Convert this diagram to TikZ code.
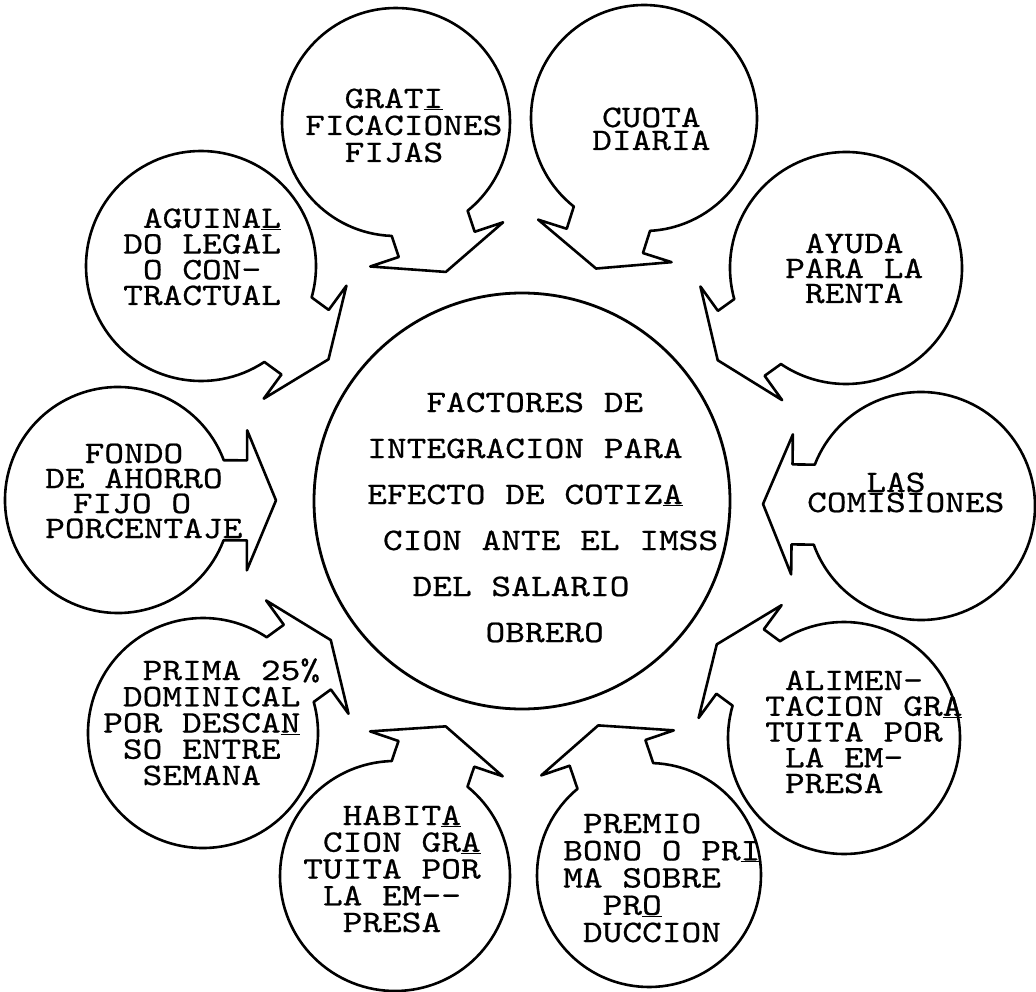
\documentclass[tikz,border=0pt]{standalone}
\usepackage{fontspec}
\newfontfamily\typew{lmmono10-regular.otf}[FakeStretch=1.2, FakeBold=0.6]
\usetikzlibrary{calc}
\newcommand\colsk[1]{\hspace*{\fpeval{0.63*#1}em}}
\lineskiplimit=-100pt

\begin{document}
\begin{tikzpicture}[x=1pt, y=-1pt,
    bubline/.style={line width=2.6pt, line join=round},
    hub/.style={circle, draw, line width=2.8pt, minimum size=416pt, inner sep=0pt},
    bubtext/.style={font=\typew\fontsize{31.3}{#1}\selectfont,
        align=left, inner sep=0pt, anchor=base west}
]
    \useasboundingbox (0,0) rectangle (1036,992);

    \node[hub] (hub) at (522,501) {};

    % bubbles with their arrow tails towards the hub
    \foreach \nm/\cx/\cy/\rr in {grati/396/122/114, cuota/644/118/113, ayuda/846/268/116,
        comis/921/506/114, alim/844/738/116, premio/649/875/112, habit/395/876/115,
        prima/203/733/115, fondo/118/500/113, aguin/201/266/115} {
        \coordinate (c\nm) at (\cx,\cy);
        \pgfmathsetmacro\ang{atan2(501-\cy,522-\cx)}
        \pgfmathsetmacro\al{asin(40/\rr)}
        \draw[bubline] ($(c\nm)+(\ang+\al:\rr)$)
            arc[start angle=\ang+\al, end angle=\ang+360-\al, radius=\rr]
            -- ($(c\nm)+(\ang:129)+(\ang-90:40)$) -- ($(c\nm)+(\ang:129)+(\ang-90:70)$)
            -- ($(c\nm)+(\ang:158)$)
            -- ($(c\nm)+(\ang:129)+(\ang+90:70)$) -- ($(c\nm)+(\ang:129)+(\ang+90:40)$)
            -- cycle;
    }

    \node[bubtext=46] (thub) at (367,642) {\colsk{3}FACTORES DE\\INTEGRACION PARA\\EFECTO DE COTIZ\underline{A}\\\colsk{.8}CION ANTE EL IMSS\\\colsk{2.3}DEL SALARIO\\\colsk{6}OBRERO};

    \node[bubtext=27] (tgrati) at (305,162) {\colsk{2}GRAT\underline{I}\\FICACIONES\\\colsk{2}FIJAS};
    \node[bubtext=23] (tcuota) at (592,150) {\colsk{.5}CUOTA\\DIARIA};
    \node[bubtext=25] (tayuda) at (785,303) {\colsk{1}AYUDA\\PARA LA\\\colsk{1}RENTA};
    \node[bubtext=20] (tcomis) at (807,512) {\colsk{3}LAS\\COMISIONES};
    \node[bubtext=25.75] (talim) at (765,793) {\colsk{1}ALIMEN-\\TACION GR\underline{A}\\TUITA POR\\\colsk{1}LA EM-\\\colsk{1}PRESA};
    \node[bubtext=27.25] (tpremio) at (563,942) {\colsk{1}PREMIO\\BONO O PR\underline{I}\\MA SOBRE\\\colsk{2}PR\underline{O}\\\colsk{1}DUCCION};
    \node[bubtext=26.75] (thabit) at (303,932) {\colsk{2}HABIT\underline{A}\\\colsk{1}CION GR\underline{A}\\TUITA POR\\\colsk{1}LA EM--\\\colsk{2}PRESA};
    \node[bubtext=26.25] (tprima) at (103,785) {\colsk{2}PRIMA 25\%\\\colsk{1}DOMINICAL\\POR DESCA\underline{N}\\\colsk{1}SO ENTRE\\\colsk{2}SEMANA};
    \node[bubtext=25] (tfondo) at (45,538) {\colsk{2}FONDO\\DE AHORRO\\\colsk{1.4}FIJO O\\PORCENTAJE};
    \node[bubtext=25.7] (taguin) at (123,305) {\colsk{1}AGUINA\underline{L}\\DO LEGAL\\\colsk{1}O CON-\\TRACTUAL};
\end{tikzpicture}
\end{document}
